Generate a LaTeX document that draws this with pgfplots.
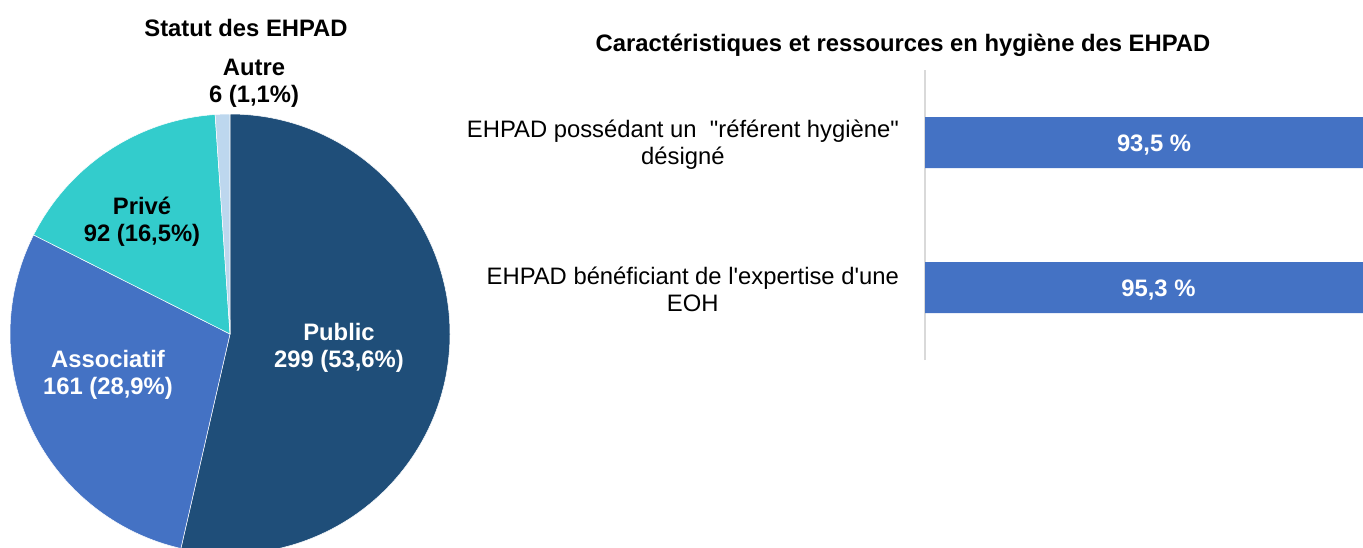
\documentclass[border=0pt]{standalone}
\usepackage{fontspec}
\newfontfamily\arial{Liberation Sans}
\usepackage{pgfplots}
\pgfplotsset{compat=1.18}
\definecolor{cPublic}{HTML}{1F4E79}
\definecolor{cAssoc}{HTML}{4472C4}
\definecolor{cPrive}{HTML}{33CCCC}
\definecolor{cAutre}{HTML}{BDD7EE}
\definecolor{cAxis}{HTML}{D9D9D9}
\begin{document}
\arial\fontsize{23.8}{27}\selectfont
\begin{tikzpicture}
\path[use as bounding box] (0pt,0pt) rectangle (1363pt,-547pt);
\clip (0pt,0pt) rectangle (1363pt,-547pt);
% pie data
\def\vPublic{299}\def\vAssoc{161}\def\vPrive{92}\def\vAutre{6}
\pgfmathsetmacro\tot{\vPublic+\vAssoc+\vPrive+\vAutre}
\pgfmathsetmacro\aA{90}
\pgfmathsetmacro\aB{\aA-\vPublic/\tot*360}
\pgfmathsetmacro\aC{\aB-\vAssoc/\tot*360}
\pgfmathsetmacro\aD{\aC-\vPrive/\tot*360}
\pgfmathsetmacro\aE{\aD-\vAutre/\tot*360}
\begin{axis}[at={(0pt,-547pt)}, anchor=south west, x=1pt, y=1pt,
  xmin=0, xmax=1363, ymin=-547, ymax=0, hide axis, clip=false]
\fill[cPublic, draw=white, line width=0.5pt] (axis cs:230,-334) -- ++(\aA:220pt) arc[start angle=\aA, end angle=\aB, radius=220pt] -- cycle;
\fill[cAssoc, draw=white, line width=0.5pt] (axis cs:230,-334) -- ++(\aB:220pt) arc[start angle=\aB, end angle=\aC, radius=220pt] -- cycle;
\fill[cPrive, draw=white, line width=0.5pt] (axis cs:230,-334) -- ++(\aC:220pt) arc[start angle=\aC, end angle=\aD, radius=220pt] -- cycle;
\fill[cAutre, draw=white, line width=0.5pt] (axis cs:230,-334) -- ++(\aD:220pt) arc[start angle=\aD, end angle=\aE, radius=220pt] -- cycle;
\node[align=center, font=\bfseries, text=white] at (axis cs:339,-348) {Public\\299 (53,6\%)};
\node[align=center, font=\bfseries, text=white] at (axis cs:108,-375) {Associatif\\161 (28,9\%)};
\node[align=center, font=\bfseries] at (axis cs:142,-222) {Privé\\92 (16,5\%)};
\node[align=center, font=\bfseries] at (axis cs:254,-83) {Autre\\6 (1,1\%)};
\node[font=\bfseries] at (axis cs:246,-28) {Statut des EHPAD};
\node[font=\bfseries] at (axis cs:903,-45) {Caractéristiques et ressources en hygiène des EHPAD};
\end{axis}
\begin{axis}[at={(925pt,-360pt)}, anchor=south west, scale only axis,
  width=438pt, height=290pt, xmin=0, xmax=89.4, ymin=0.5, ymax=2.5,
  xtick=\empty, ytick={1,2},
  yticklabels={{EHPAD bénéficiant de l'expertise d'une\\EOH},{EHPAD possédant un\ \ "référent hygiène"\\désigné}},
  yticklabel style={align=center, xshift=-18pt, yshift=-2pt},
  major tick length=0pt,
  axis x line=none, axis y line*=left,
  y axis line style={draw=cAxis, line width=1.3pt}]
\addplot[xbar, bar width=51pt, fill=cAssoc, draw=none] coordinates {(93.5,2) (95.3,1)};
\addplot[draw=none, mark=none, nodes near coords, point meta=explicit symbolic,
  nodes near coords align=center,
  every node near coord/.append style={font=\bfseries, text=white, anchor=center, yshift=-3pt}]
  coordinates {(46.75,2) [{93,5 \%}] (47.65,1) [{95,3 \%}]};
\end{axis}
\end{tikzpicture}
\end{document}
